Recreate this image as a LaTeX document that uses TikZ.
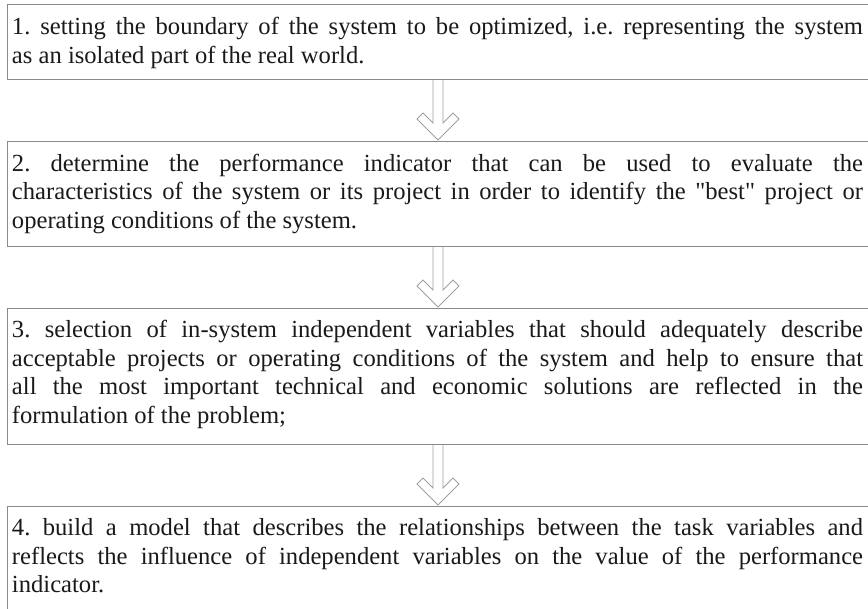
\documentclass[tikz,border=0pt]{standalone}
\usepackage{fontspec}
\setmainfont{Liberation Serif}
\definecolor{boxgray}{HTML}{8A8A8A}
\definecolor{arrgray}{HTML}{A0A0A0}
\definecolor{txtcol}{HTML}{1A1A1A}
\frenchspacing
\begin{document}
\begin{tikzpicture}[x=1pt,y=1pt,
  box/.style={draw=boxgray, line width=1pt, anchor=north west, minimum width=862pt, inner sep=0pt, outer sep=0pt},
  txt/.style={anchor=base west, inner sep=0pt, outer sep=0pt, text=txtcol, font=\fontsize{24.6}{28.5}\selectfont},
  hollow/.style={draw=arrgray, line width=0.9pt, line join=miter}]
\useasboundingbox (0,0) rectangle (868,-609);
\fill[white] (0,0) rectangle (868,-609);
% boxes
\node[box, minimum height=75pt]  (b1) at (7,-5) {};
\node[box, minimum height=105pt] (b2) at (7,-142) {};
\node[box, minimum height=136pt] (b3) at (7,-309) {};
\node[box, minimum height=112pt] (b4) at (7,-507) {};
% texts
\newcommand{\boxpar}[1]{\parbox[t]{851pt}{\hyphenpenalty=10000\exhyphenpenalty=10000\tolerance=9999 #1}}
\node[txt] (t1) at ([xshift=5pt,yshift=-30pt]b1.north west) {\boxpar{1. setting the boundary of the system to be optimized, i.e. representing the system\linebreak as an isolated part of the real world.}};
\node[txt] (t2) at ([xshift=5pt,yshift=-29.5pt]b2.north west) {\boxpar{2. determine the performance indicator that can be used to evaluate the\linebreak characteristics of the system or its project in order to identify the \textquotedbl best\textquotedbl{} project or\linebreak operating conditions of the system.}};
\node[txt] (t3) at ([xshift=5pt,yshift=-29pt]b3.north west) {\boxpar{3. selection of in-system independent variables that should adequately describe\linebreak acceptable projects or operating conditions of the system and help to ensure that\linebreak all the most important technical and economic solutions are reflected in the\linebreak formulation of the problem;}};
\node[txt] (t4) at ([xshift=5pt,yshift=-28.5pt]b4.north west) {\boxpar{4. build a model that describes the relationships between the task variables and\linebreak reflects the influence of independent variables on the value of the performance\linebreak indicator.}};
% hollow arrows
\draw[hollow] ([xshift=-5pt]b1.south) -- ([xshift=-5pt,yshift=19pt]b2.north) -- ++(-10,10) -- ++(-6,-6) -- ([yshift=2pt]b2.north) -- ++(21,21) -- ++(-6,6) -- ++(-10,-10) -- ([xshift=5pt]b1.south);
\draw[hollow] ([xshift=-5pt]b2.south) -- ([xshift=-5pt,yshift=19pt]b3.north) -- ++(-10,10) -- ++(-6,-6) -- ([yshift=2pt]b3.north) -- ++(21,21) -- ++(-6,6) -- ++(-10,-10) -- ([xshift=5pt]b2.south);
\draw[hollow] ([xshift=-5pt]b3.south) -- ([xshift=-5pt,yshift=19pt]b4.north) -- ++(-10,10) -- ++(-6,-6) -- ([yshift=2pt]b4.north) -- ++(21,21) -- ++(-6,6) -- ++(-10,-10) -- ([xshift=5pt]b3.south);
\end{tikzpicture}
\end{document}
